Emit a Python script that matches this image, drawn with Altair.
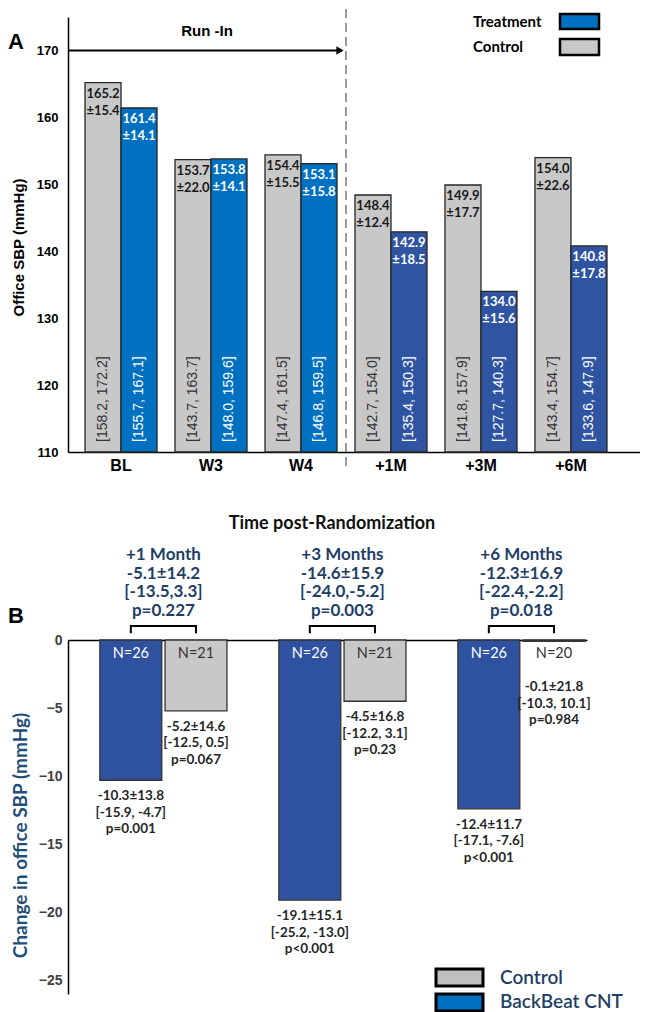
import altair as alt
import pandas as pd

# ---------------- Panel A data (office SBP by visit) ----------------
groups_a = ["BL", "W3", "W4", "+1M", "+3M", "+6M"]
runin_groups = ["BL", "W3", "W4"]
ctrl_mean = [165.2, 153.7, 154.4, 148.4, 149.9, 154.0]
ctrl_sd = [15.4, 22.0, 15.5, 12.4, 17.7, 22.6]
ctrl_lo = [158.2, 143.7, 147.4, 142.7, 141.8, 143.4]
ctrl_hi = [172.2, 163.7, 161.5, 154.0, 157.9, 154.7]
trt_mean = [161.4, 153.8, 153.1, 142.9, 134.0, 140.8]
trt_sd = [14.1, 14.1, 15.8, 18.5, 15.6, 17.8]
trt_lo = [155.7, 148.0, 146.8, 135.4, 127.7, 133.6]
trt_hi = [167.1, 159.6, 159.5, 150.3, 140.3, 147.9]

# ---------------- Panel B data (change from baseline) ----------------
groups_b = ["+1 Month", "+3 Months", "+6 Months"]
diff_mean = [-5.1, -14.6, -12.3]
diff_sd = [14.2, 15.9, 16.9]
diff_lo = [-13.5, -24.0, -22.4]
diff_hi = [3.3, -5.2, -2.2]
diff_p = ["0.227", "0.003", "0.018"]
trt_chg = [-10.3, -19.1, -12.4]
trt_chg_sd = [13.8, 15.1, 11.7]
trt_chg_lo = [-15.9, -25.2, -17.1]
trt_chg_hi = [-4.7, -13.0, -7.6]
trt_chg_p = ["=0.001", "<0.001", "<0.001"]
trt_n = [26, 26, 26]
ctrl_chg = [-5.2, -4.5, -0.1]
ctrl_chg_sd = [14.6, 16.8, 21.8]
ctrl_chg_lo = [-12.5, -12.2, -10.3]
ctrl_chg_hi = [0.5, 3.1, 10.1]
ctrl_chg_p = ["=0.067", "=0.23", "=0.984"]
ctrl_n = [21, 21, 20]

# ---------------- styles ----------------
GRAY = "#c8c8c8"
BLUE_RUNIN = "#0070c0"
BLUE_POST = "#2e54a2"
NAVY = "#1f3f66"
TITLE_BLUE = "#1f4e79"

# ================= Panel A =================
rows = []
for i, g in enumerate(groups_a):
    rows.append(dict(group=g, series="Control", mean=ctrl_mean[i],
                     label=f"{ctrl_mean[i]:.1f}\n±{ctrl_sd[i]:.1f}",
                     ci=f"[{ctrl_lo[i]:.1f}, {ctrl_hi[i]:.1f}]",
                     fill=GRAY, tcolor="#1a1a1a", ccolor="#333333"))
    rows.append(dict(group=g, series="Treatment", mean=trt_mean[i],
                     label=f"{trt_mean[i]:.1f}\n±{trt_sd[i]:.1f}",
                     ci=f"[{trt_lo[i]:.1f}, {trt_hi[i]:.1f}]",
                     fill=BLUE_RUNIN if g in runin_groups else BLUE_POST,
                     tcolor="white", ccolor="white"))
df_a = pd.DataFrame(rows)

WA, HA = 572, 435
PI_A, PO_A, AL_A = 0.2, 0.278, 0.34
n_a = len(groups_a)
step_a = WA / (n_a - PI_A + 2 * PO_A)
start_a = (WA - step_a * (n_a - PI_A)) * AL_A
div_x = start_a + len(runin_groups) * step_a - PI_A * step_a / 2

xa = alt.X("group:N", sort=groups_a,
           scale=alt.Scale(domain=groups_a, paddingInner=PI_A, paddingOuter=PO_A,
                           align=AL_A, round=False),
           axis=alt.Axis(title=None, labelFont="Liberation Sans", labelFontWeight="bold",
                         labelFontSize=16, labelColor="black", labelPadding=5, labelAngle=0,
                         ticks=False, domainColor="black", domainWidth=1.5))
xoa = alt.XOffset("series:N", sort=["Control", "Treatment"],
                  scale=alt.Scale(domain=["Control", "Treatment"], paddingInner=0, paddingOuter=0))
ya_scale = alt.Scale(domain=[110, 175], nice=False, zero=False)
ya = alt.Y("mean:Q", scale=ya_scale,
           axis=alt.Axis(values=[110, 120, 130, 140, 150, 160, 170], title="Office SBP (mmHg)",
                         titleFont="Liberation Sans", titleFontSize=15, titleFontWeight="bold",
                         titleColor="black", titlePadding=10, titleY=230,
                         labelFont="Liberation Sans", labelFontWeight="bold", labelFontSize=13,
                         labelColor="black", labelPadding=10, ticks=False, grid=False,
                         domainColor="black", domainWidth=1.5))

base_a = alt.Chart(df_a)
bars_a = base_a.mark_bar(stroke="#262626", strokeWidth=1.3).encode(
    x=xa, xOffset=xoa, y=ya, y2=alt.datum(110), fill=alt.Fill("fill:N", scale=None))
lab_a = base_a.mark_text(baseline="top", dy=5, lineBreak="\n", lineHeight=17,
                         font="Lato", fontSize=13, fontWeight="bold").encode(
    x=xa, xOffset=xoa, y="mean:Q", text="label:N", color=alt.Color("tcolor:N", scale=None))
ci_a = base_a.mark_text(angle=270, align="left", baseline="middle", dx=10,
                        font="Liberation Sans", fontSize=14).encode(
    x=xa, xOffset=xoa, y=alt.datum(110), text="ci:N", color=alt.Color("ccolor:N", scale=None))

one = pd.DataFrame({"k": [0]})
dash = alt.Chart(one).mark_rule(strokeDash=[9, 5], color="#808080", strokeWidth=1.6).encode(
    x=alt.value(div_x), y=alt.value(-8), y2=alt.value(HA + 18))
arrow = alt.Chart(one).mark_rule(color="black", strokeWidth=2).encode(
    x=alt.value(0), x2=alt.value(div_x - 4), y=alt.datum(170))
head = alt.Chart(one).mark_point(shape="triangle-right", filled=True, size=70,
                                 color="black", opacity=1).encode(
    x=alt.value(div_x - 6), y=alt.datum(170))
runin = alt.Chart(one).mark_text(font="Liberation Sans", fontWeight="bold", fontSize=15).encode(
    x=alt.value(div_x / 2), y=alt.value(14), text=alt.value("Run -In"))
lab_A = alt.Chart(one).mark_text(font="Liberation Sans", fontWeight="bold", fontSize=22,
                                 align="left", baseline="middle").encode(
    x=alt.value(-60), y=alt.value(25), text=alt.value("A"))
leg_t_box = alt.Chart(one).mark_rect(fill=BLUE_RUNIN, stroke="black", strokeWidth=2.5).encode(
    x=alt.value(492), x2=alt.value(531), y=alt.value(-3), y2=alt.value(12))
leg_c_box = alt.Chart(one).mark_rect(fill=GRAY, stroke="black", strokeWidth=2.5).encode(
    x=alt.value(492), x2=alt.value(531), y=alt.value(22), y2=alt.value(38))
leg_t_txt = alt.Chart(one).mark_text(font="Lato", fontWeight="bold", fontSize=15, align="left",
                                     baseline="middle").encode(
    x=alt.value(405), y=alt.value(5), text=alt.value("Treatment"))
leg_c_txt = alt.Chart(one).mark_text(font="Lato", fontWeight="bold", fontSize=15, align="left",
                                     baseline="middle").encode(
    x=alt.value(405), y=alt.value(30), text=alt.value("Control"))

chart_a = alt.layer(bars_a, lab_a, ci_a, dash, arrow, head, runin, lab_A,
                    leg_t_box, leg_c_box, leg_t_txt, leg_c_txt).properties(width=WA, height=HA)

# ================= Panel B =================
rows = []
for i, g in enumerate(groups_b):
    rows.append(dict(group=g, arm="BackBeat CNT", value=trt_chg[i], fill="#2f52a0",
                     tcolor="white", nlabel=f"N={trt_n[i]}",
                     stats=f"{trt_chg[i]:.1f}±{trt_chg_sd[i]:.1f}\n[{trt_chg_lo[i]:.1f}, {trt_chg_hi[i]:.1f}]\np{trt_chg_p[i]}"))
    rows.append(dict(group=g, arm="Control", value=ctrl_chg[i], fill=GRAY,
                     tcolor="#333333", nlabel=f"N={ctrl_n[i]}",
                     stats=f"{ctrl_chg[i]:.1f}±{ctrl_chg_sd[i]:.1f}\n[{ctrl_chg_lo[i]:.1f}, {ctrl_chg_hi[i]:.1f}]\np{ctrl_chg_p[i]}"))
df_b = pd.DataFrame(rows)
df_b["anchor"] = df_b["value"].clip(upper=-2.3)

df_h = pd.DataFrame({
    "group": groups_b,
    "header": [f"{groups_b[i]}\n{diff_mean[i]:.1f}±{diff_sd[i]:.1f}\n[{diff_lo[i]:.1f},{diff_hi[i]:.1f}]\np={diff_p[i]}"
               for i in range(len(groups_b))],
})

BR_LOW, BR_HIGH = 0.5, 1.03
br_rows = []
for g in groups_b:
    for k, (s, yv) in enumerate([("BackBeat CNT", BR_LOW), ("BackBeat CNT", BR_HIGH),
                                 ("Control", BR_HIGH), ("Control", BR_LOW)]):
        br_rows.append(dict(group=g, arm=s, value=yv, idx=k))
df_br = pd.DataFrame(br_rows)

WB, HB = 519, 354
arms_b = ["BackBeat CNT", "Control"]
xb = alt.X("group:N", sort=groups_b,
           scale=alt.Scale(domain=groups_b, paddingInner=0.29, paddingOuter=0.0947,
                           align=0.94, round=False),
           axis=alt.Axis(orient="top", labels=False, ticks=False, title=None,
                         domainColor="black", domainWidth=1.5))
xob = alt.XOffset("arm:N", sort=arms_b,
                  scale=alt.Scale(domain=arms_b, paddingInner=0.05, paddingOuter=0))
yb = alt.Y("value:Q", scale=alt.Scale(domain=[-26, 0], nice=False),
           axis=alt.Axis(values=[0, -5, -10, -15, -20, -25], title="Change in office SBP (mmHg)",
                         titleFont="Lato", titleFontSize=19, titleFontWeight="bold",
                         titleColor=TITLE_BLUE, titlePadding=8, titleY=195,
                         labelFont="Liberation Sans", labelFontWeight="bold", labelFontSize=14,
                         labelColor="#404040", labelPadding=6, ticks=False, grid=False,
                         domainColor="black", domainWidth=1.5))

base_b = alt.Chart(df_b)
bars_b = base_b.mark_bar(stroke="#333333", strokeWidth=1.3).encode(
    x=xb, xOffset=xob, y=yb, y2=alt.datum(0), fill=alt.Fill("fill:N", scale=None))
n_b = base_b.mark_text(baseline="middle", dy=14, font="Lato", fontSize=14.5).encode(
    x=xb, xOffset=xob, y=alt.datum(0), text="nlabel:N", color=alt.Color("tcolor:N", scale=None))
stats_b = base_b.mark_text(baseline="top", dy=9, lineBreak="\n", lineHeight=16.5,
                           font="Lato", fontSize=13.5, fontWeight="bold", color="#262626").encode(
    x=xb, xOffset=xob, y="anchor:Q", text="stats:N")
head_b = alt.Chart(df_h).mark_text(baseline="top", lineBreak="\n", lineHeight=18.5,
                                   font="Lato", fontSize=17, fontWeight="bold", color=NAVY).encode(
    x=xb, y=alt.value(-93), text="header:N")
brackets = alt.Chart(df_br).mark_line(color="black", strokeWidth=2).encode(
    x=xb, xOffset=xob, y="value:Q", detail="group:N", order="idx:O")
time_title = alt.Chart(one).mark_text(font="Lato", fontWeight="bold", fontSize=18,
                                      color="#111111").encode(
    x=alt.value(264), y=alt.value(-116), text=alt.value("Time post-Randomization"))
lab_B = alt.Chart(one).mark_text(font="Liberation Sans", fontWeight="bold", fontSize=22,
                                 align="left", baseline="middle").encode(
    x=alt.value(-60), y=alt.value(-24), text=alt.value("B"))
lb_c_box = alt.Chart(one).mark_rect(fill="#bfbfbf", stroke="black", strokeWidth=3).encode(
    x=alt.value(368), x2=alt.value(415), y=alt.value(329), y2=alt.value(346))
lb_t_box = alt.Chart(one).mark_rect(fill=BLUE_RUNIN, stroke="black", strokeWidth=3).encode(
    x=alt.value(368), x2=alt.value(415), y=alt.value(354), y2=alt.value(371))
lb_c_txt = alt.Chart(one).mark_text(font="Lato", fontWeight=600, fontSize=19, color=NAVY,
                                    align="left", baseline="middle").encode(
    x=alt.value(432), y=alt.value(338), text=alt.value("Control"))
lb_t_txt = alt.Chart(one).mark_text(font="Lato", fontWeight=600, fontSize=19, color=NAVY,
                                    align="left", baseline="middle").encode(
    x=alt.value(432), y=alt.value(362), text=alt.value("BackBeat CNT"))

chart_b = alt.layer(bars_b, n_b, stats_b, head_b, brackets, time_title, lab_B,
                    lb_c_box, lb_t_box, lb_c_txt, lb_t_txt).properties(width=WB, height=HB)

chart = alt.vconcat(chart_a, chart_b, spacing=188, bounds="flush").properties(
    padding=0
).resolve_scale(xOffset="independent").configure_view(stroke=None).configure_axis(grid=False)

chart.save("out.html", embed_options={"renderer": "svg", "actions": False})
